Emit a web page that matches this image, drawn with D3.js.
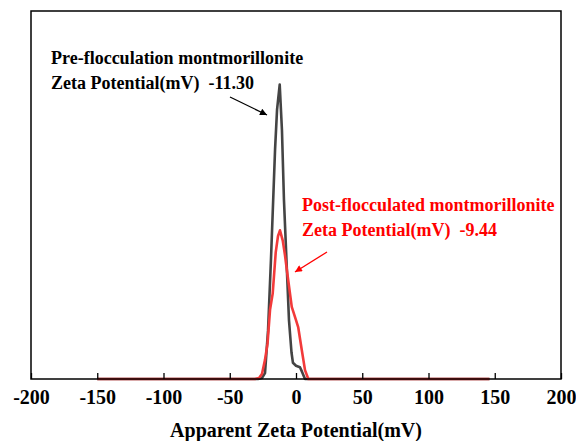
<!DOCTYPE html>
<html>
<head>
<meta charset="utf-8">
<script src="https://cdn.jsdelivr.net/npm/d3@7"></script>
<style>
  body { margin: 0; background: #fff; }
  svg { display: block; font-family: "Liberation Serif", "Times New Roman", serif; font-weight: bold; }
  svg text { white-space: pre; }
</style>
</head>
<body>
<div id="chart"></div>
<script>
// zeta potential (mV) vs intensity
const preX = [-150, -28.7, -25.7, -23.4, -21.1, -18.9, -15.8, -14.3, -12.3, -10.6, -9.1, -7.2, -5.3, -3.4, -2.3, 0, 3.0, 4.5, 6.8, 10.6, 146];
const preY = [0, 0, 0.07, 0.4, 3.3, 8.1, 15.6, 18.3, 20.0, 16.9, 12.2, 8.1, 4.0, 1.8, 1.1, 0.9, 0.8, 0.5, 0, 0, 0];

const postX = [-150, -30.9, -27.9, -25.7, -23.4, -21.5, -19.6, -17.6, -15.3, -13.6, -12.1, -10.0, -8.3, -6.6, -3.2, 0, 1.7, 4.3, 6.8, 9.3, 12, 146];
const postY = [0, 0, 0.07, 0.34, 1.3, 2.4, 4.7, 5.8, 8.6, 9.7, 10.1, 9.4, 8.4, 7.2, 4.9, 4.0, 3.5, 2.0, 0.6, 0, 0, 0];

const xTicks = [-200, -150, -100, -50, 0, 50, 100, 150, 200];

const width = 576, height = 441;
const margin = {top: 11, right: 15, bottom: 62, left: 31};

const svg = d3.select('#chart').append('svg')
  .attr('width', width)
  .attr('height', height);

const x = d3.scaleLinear().domain([-200, 200]).range([margin.left, width - margin.right]);
const y = d3.scaleLinear().domain([0, 25]).range([height - margin.bottom, margin.top]);

const line = d3.line().x(d => x(d[0])).y(d => y(d[1]));

svg.append('path')
  .datum(d3.zip(preX, preY))
  .attr('fill', 'none')
  .attr('stroke', '#444')
  .attr('stroke-width', 2.6)
  .attr('stroke-linejoin', 'round')
  .attr('d', line);

svg.append('path')
  .datum(d3.zip(postX, postY))
  .attr('fill', 'none')
  .attr('stroke', '#f23a3a')
  .attr('stroke-width', 2.6)
  .attr('stroke-linejoin', 'round')
  .attr('d', line);

// frame
svg.append('rect')
  .attr('x', margin.left)
  .attr('y', margin.top)
  .attr('width', width - margin.left - margin.right)
  .attr('height', height - margin.top - margin.bottom)
  .attr('fill', 'none')
  .attr('stroke', '#000')
  .attr('stroke-width', 1.5);

const xAxis = svg.append('g')
  .attr('transform', `translate(0,${height - margin.bottom})`)
  .call(d3.axisBottom(x).tickValues(xTicks).tickFormat(d => String(d))
    .tickSizeInner(-6).tickSizeOuter(0).tickPadding(11));
xAxis.select('.domain').remove();
xAxis.selectAll('line').attr('stroke', '#000').attr('stroke-width', 1.3);
xAxis.selectAll('text')
  .attr('fill', '#000')
  .attr('font-size', '20px')
  .attr('font-weight', 'bold')
  .attr('font-family', '"Liberation Serif", serif');

svg.append('text')
  .attr('x', x(0))
  .attr('y', 437)
  .attr('text-anchor', 'middle')
  .attr('font-size', '20px')
  .text('Apparent Zeta Potential(mV)');

// annotations
svg.append('defs').selectAll('marker')
  .data([['arrK', '#000'], ['arrR', '#f00']])
  .join('marker')
  .attr('id', d => d[0])
  .attr('viewBox', '0 -5 10 10')
  .attr('refX', 10)
  .attr('refY', 0)
  .attr('markerWidth', 9)
  .attr('markerHeight', 7)
  .attr('markerUnits', 'userSpaceOnUse')
  .attr('orient', 'auto')
  .append('path')
  .attr('d', 'M0,-5L10,0L0,5Z')
  .attr('fill', d => d[1]);

const notes = [
  {lines: ['Pre-flocculation montmorillonite', 'Zeta Potential(mV)  -11.30'], tx: 51, ty: 64, color: '#000', arrow: [230, 97, 267, 115], mk: 'arrK'},
  {lines: ['Post-flocculated montmorillonite', 'Zeta Potential(mV)  -9.44'], tx: 302, ty: 211, color: '#f00', arrow: [327, 252, 295, 272], mk: 'arrR'}
];

notes.forEach(n => {
  n.lines.forEach((t, i) => {
    svg.append('text')
      .attr('x', n.tx)
      .attr('y', n.ty + i * 25)
      .attr('fill', n.color)
      .attr('font-size', '18px')
      .attr('xml:space', 'preserve')
      .text(t);
  });
  svg.append('line')
    .attr('x1', n.arrow[0]).attr('y1', n.arrow[1])
    .attr('x2', n.arrow[2]).attr('y2', n.arrow[3])
    .attr('stroke', n.color)
    .attr('stroke-width', 1.3)
    .attr('marker-end', `url(#${n.mk})`);
});
</script>
</body>
</html>
